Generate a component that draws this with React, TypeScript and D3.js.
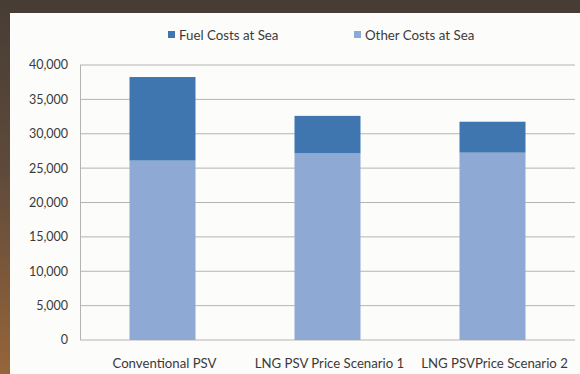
import React from "react";
import * as d3 from "d3";

const categories = ["Conventional PSV", "LNG PSV Price Scenario 1", "LNG PSVPrice Scenario 2"];
const otherCosts = [26100, 27150, 27250];
const fuelCosts = [12150, 5450, 4500];
const seriesNames = ["Fuel Costs at Sea", "Other Costs at Sea"];
const yTicks = [0, 5000, 10000, 15000, 20000, 25000, 30000, 35000, 40000];

const W = 580;
const H = 374;
const plotLeft = 80;
const plotRight = 575;
const plotTop = 65;
const plotBottom = 340;

const FUEL = "#3f76b0";
const OTHER = "#8eaad4";
const FONT = "Lato, 'Open Sans', sans-serif";
const TEXT = "#3a3a3a";

export default function App() {
  const x = d3
    .scaleBand<string>()
    .domain(categories)
    .range([plotLeft, plotRight])
    .paddingInner(0.6)
    .paddingOuter(0.3);
  const y = d3.scaleLinear().domain([0, 40000]).range([plotBottom, plotTop]);
  const fmt = d3.format(",");

  return (
    <svg width={W} height={H} style={{ position: "absolute", left: 0, top: 0 }}>
      <defs>
        <linearGradient id="leftStrip" x1="0" y1="0" x2="0" y2="1">
          <stop offset="0" stopColor="#473d35" />
          <stop offset="0.45" stopColor="#5e4a3a" />
          <stop offset="1" stopColor="#96653a" />
        </linearGradient>
      </defs>
      <rect x={0} y={0} width={W} height={H} fill="#fcfcfb" />
      <rect x={0} y={0} width={W} height={13} fill="#473d35" />
      <rect x={0} y={0} width={10} height={H} fill="url(#leftStrip)" />

      {yTicks.map((t) => (
        <line
          key={t}
          x1={plotLeft}
          x2={plotRight}
          y1={y(t)}
          y2={y(t)}
          stroke="#b4b4b4"
          strokeWidth={1}
        />
      ))}
      <line x1={plotLeft + 0.5} x2={plotLeft + 0.5} y1={plotTop} y2={plotBottom} stroke="#b4b4b4" />

      {yTicks.map((t) => (
        <text
          key={"l" + t}
          x={68}
          y={y(t)}
          dy="0.35em"
          textAnchor="end"
          fontFamily={FONT}
          fontSize={12.5}
          fill={TEXT}
        >
          {fmt(t)}
        </text>
      ))}

      {categories.map((c, i) => (
        <g key={c}>
          <rect
            x={x(c)}
            width={x.bandwidth()}
            y={y(otherCosts[i])}
            height={y(0) - y(otherCosts[i])}
            fill={OTHER}
          />
          <rect
            x={x(c)}
            width={x.bandwidth()}
            y={y(otherCosts[i] + fuelCosts[i])}
            height={y(otherCosts[i]) - y(otherCosts[i] + fuelCosts[i])}
            fill={FUEL}
          />
          <text
            x={(x(c) as number) + x.bandwidth() / 2 + 2}
            y={363}
            dy="0.35em"
            textAnchor="middle"
            fontFamily={FONT}
            fontSize={13.2}
            fill={TEXT}
          >
            {c}
          </text>
        </g>
      ))}

      {seriesNames.map((s, i) => {
        const lx = i === 0 ? 168 : 354;
        return (
          <g key={s}>
            <rect x={lx} y={31} width={7} height={7} fill={i === 0 ? FUEL : OTHER} />
            <text x={lx + 11} y={35} dy="0.35em" fontFamily={FONT} fontSize={13.3} fill={TEXT}>
              {s}
            </text>
          </g>
        );
      })}
    </svg>
  );
}
